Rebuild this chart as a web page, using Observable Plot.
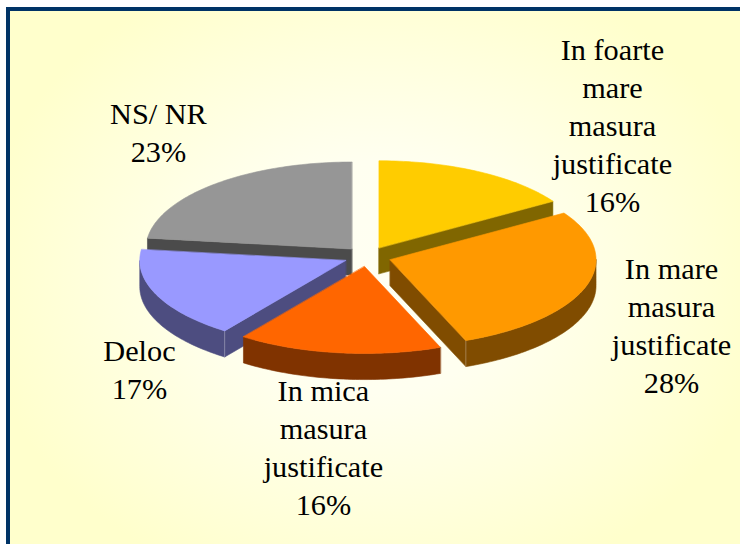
<!DOCTYPE html>
<html>
<head>
<meta charset="utf-8">
<script src="https://cdn.jsdelivr.net/npm/d3@7"></script>
<script src="https://cdn.jsdelivr.net/npm/@observablehq/plot@0.6"></script>
<style>
html,body{margin:0;padding:0;background:#fff}
#chart{width:740px;height:544px;overflow:hidden}
#chart svg{display:block}
</style>
</head>
<body>
<div id="chart"></div>
<script>
// Data
const categories = ["In foarte\nmare\nmasura\njustificate", "In mare\nmasura\njustificate", "In mica\nmasura\njustificate", "Deloc", "NS/ NR"];
const percents = [16, 28, 16, 17, 23];
const topColors = ["#ffcc00", "#ff9900", "#ff6600", "#9999ff", "#969696"];
const sideColors = ["#806600", "#804c00", "#803300", "#4d4d80", "#4b4b4b"];
const labelU = [1.189, 1.476, -0.214, -1.107, -1.015];
const labelV = [1.53, -0.77, -2.18, -1.276, 1.44];
const paintOrder = [4, 3, 0, 1, 2];

// Pie geometry in unit-circle data space
const explode = 0.115, depth = 0.3;
const total = d3.sum(percents);
const rad = (p) => (p / total) * 2 * Math.PI;
const starts = d3.cumsum([0, ...percents.slice(0, -1)]).map(Number);

const marks = [];
const poly = (pts, fill) => Plot.line(pts, {x: "u", y: "v", fill, stroke: fill, strokeWidth: 0.6, curve: "linear-closed"});

for (const i of paintOrder) {
  const a0 = rad(starts[i]), a1 = rad(starts[i] + percents[i]), mid = (a0 + a1) / 2;
  const cu = explode * Math.sin(mid), cv = explode * Math.cos(mid);
  const rim = (a, down = 0) => ({u: cu + Math.sin(a), v: cv + Math.cos(a) - down});
  const apex = (down = 0) => ({u: cu, v: cv - down});
  const face = (a) => [apex(), rim(a), rim(a, depth), apex(depth)];

  // radial cut faces turned to the viewer
  if (Math.sin(a0) < -0.01) marks.push(poly(face(a0), sideColors[i]));
  if (Math.sin(a1) > 0.01) marks.push(poly(face(a1), sideColors[i]));

  // outer wall (front half of the rim only)
  const w0 = Math.max(a0, Math.PI / 2), w1 = Math.min(a1, 1.5 * Math.PI);
  if (w1 > w0) {
    const angles = d3.range(w0, w1, 0.02).concat(w1);
    marks.push(poly([...angles.map((a) => rim(a)), ...angles.slice().reverse().map((a) => rim(a, depth))], sideColors[i]));
  }
  // pale corner edge where a cut face meets the wall
  const corner = Math.sin(a0) < -0.01 && a0 > Math.PI / 2 && a0 < 1.5 * Math.PI ? a0
    : Math.sin(a1) > 0.01 && a1 > Math.PI / 2 && a1 < 1.5 * Math.PI ? a1 : null;
  if (corner !== null) marks.push(Plot.line([rim(corner), rim(corner, depth)], {x: "u", y: "v", stroke: "#ffffff", strokeOpacity: 0.35, strokeWidth: 0.8}));

  // top surface
  const arc = d3.range(a0, a1, 0.02).concat(a1).map((a) => rim(a));
  marks.push(poly([apex(), ...arc], topColors[i]));
}

const labels = categories.map((c, i) => ({text: `${c}\n${percents[i]}%`, u: labelU[i], v: labelV[i]}));
marks.push(Plot.text(labels, {
  x: "u", y: "v", text: "text", fontSize: 30.3, lineHeight: 1.254,
  fontFamily: "'Liberation Serif', serif", fill: "#000", textAnchor: "middle"
}));

const plot = Plot.plot({
  width: 740, height: 544, margin: 0,
  x: {domain: [-1.7816, 1.8107], range: [0, 740], axis: null},
  y: {domain: [-3.31, 2.943], range: [544, 0], axis: null},
  style: {
    background:
      "linear-gradient(#003366,#003366) 6px 7px/734px 4px no-repeat," +
      "linear-gradient(#003366,#003366) 6px 7px/4px 537px no-repeat," +
      "linear-gradient(#fff,#fff) 0 0/740px 7px no-repeat," +
      "linear-gradient(#fff,#fff) 0 0/6px 544px no-repeat," +
      "radial-gradient(ellipse 400px 330px at 375px 277px,#fffff2 0%,#fffff0 35%,#ffffcc 100%)"
  },
  marks
});
document.getElementById("chart").append(plot);
</script>
</body>
</html>
